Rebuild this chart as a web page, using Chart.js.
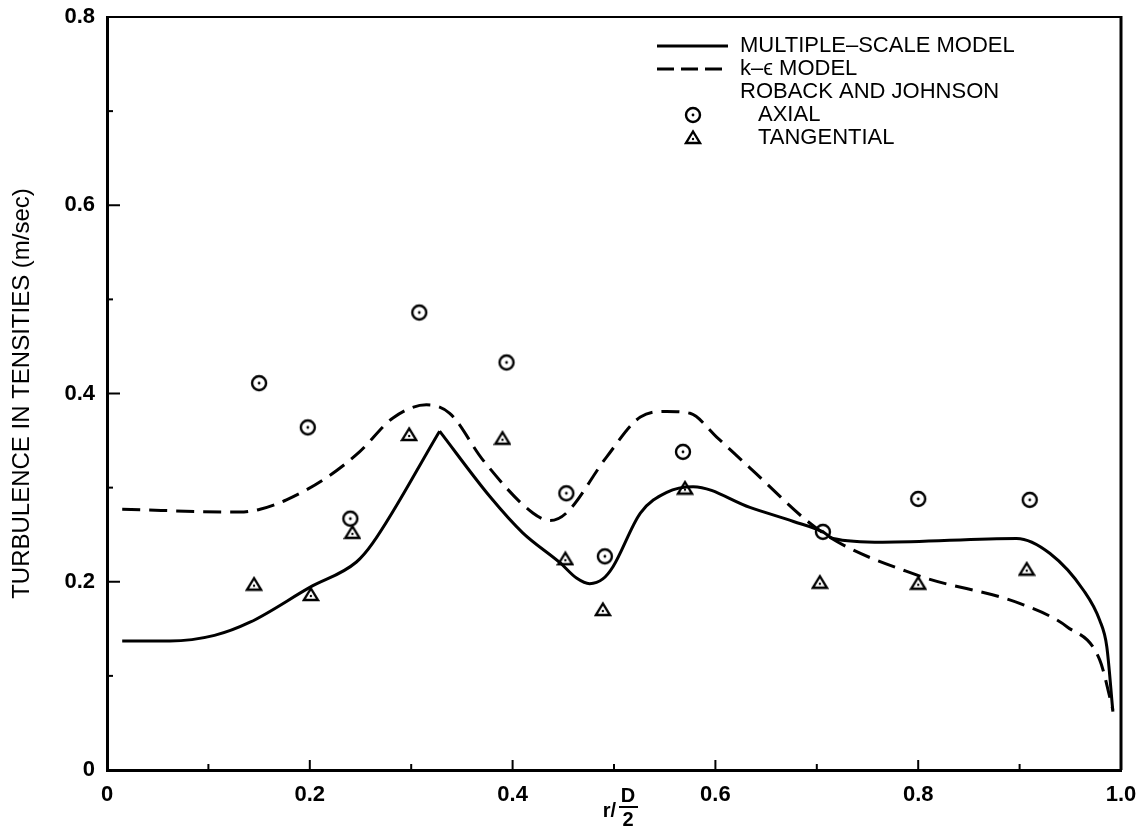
<!DOCTYPE html>
<html>
<head>
<meta charset="utf-8">
<script src="https://cdn.jsdelivr.net/npm/chart.js@4/dist/chart.umd.min.js"></script>
<style>
  html, body { margin: 0; padding: 0; background: #fff; }
  #wrap { width: 1146px; height: 833px; }
</style>
</head>
<body>
<div id="wrap"><canvas id="chart"></canvas></div>
<script>
// Multiple-scale model (solid)
const msX = [0.015, 0.062, 0.106, 0.141, 0.200, 0.246, 0.262, 0.328, 0.378, 0.410, 0.447, 0.463, 0.476, 0.489, 0.499, 0.526, 0.552, 0.578, 0.634, 0.677, 0.706, 0.716, 0.765, 0.897, 0.930, 0.963, 0.979, 0.986, 0.992];
const msY = [0.137, 0.137, 0.143, 0.157, 0.194, 0.221, 0.241, 0.360, 0.290, 0.252, 0.220, 0.204, 0.198, 0.203, 0.216, 0.273, 0.295, 0.301, 0.279, 0.264, 0.253, 0.246, 0.242, 0.246, 0.230, 0.191, 0.159, 0.131, 0.062];
const msPeakIndex = 7; // sharp corner here

// k-epsilon model (dashed)
const keX = [0.015, 0.131, 0.151, 0.177, 0.217, 0.249, 0.282, 0.315, 0.338, 0.371, 0.420, 0.437, 0.453, 0.493, 0.526, 0.552, 0.575, 0.601, 0.634, 0.706, 0.799, 0.900, 0.947, 0.979, 0.992];
const keY = [0.277, 0.274, 0.277, 0.287, 0.311, 0.338, 0.374, 0.388, 0.379, 0.329, 0.273, 0.265, 0.273, 0.333, 0.375, 0.381, 0.379, 0.354, 0.321, 0.252, 0.207, 0.177, 0.152, 0.117, 0.064];

// Roback and Johnson data
const axialX = [0.150, 0.198, 0.240, 0.308, 0.394, 0.453, 0.491, 0.568, 0.706, 0.800, 0.910];
const axialY = [0.411, 0.364, 0.267, 0.486, 0.433, 0.294, 0.227, 0.338, 0.253, 0.288, 0.287];
const tangX = [0.145, 0.201, 0.242, 0.298, 0.390, 0.452, 0.489, 0.570, 0.703, 0.800, 0.907];
const tangY = [0.198, 0.187, 0.253, 0.357, 0.353, 0.225, 0.171, 0.300, 0.200, 0.199, 0.214];

// axes
const xTicks = [0, 0.2, 0.4, 0.6, 0.8, 1.0];
const xTickLabels = ['0', '0.2', '0.4', '0.6', '0.8', '1.0'];
const xMinorTicks = [0.1, 0.3, 0.5, 0.7, 0.9];
const yTicks = [0, 0.2, 0.4, 0.6, 0.8];
const yTickLabels = ['0', '0.2', '0.4', '0.6', '0.8'];
const yMinorTicks = [0.1, 0.3, 0.5, 0.7];

const legendLabels = ['MULTIPLE\u2013SCALE MODEL', 'k\u2013\u03F5 MODEL', 'ROBACK AND JOHNSON', 'AXIAL', 'TANGENTIAL'];
const yTitle = 'TURBULENCE IN TENSITIES (m/sec)';

const FONT = "'Liberation Sans', Arial, Helvetica, 'DejaVu Sans', sans-serif";

function zip(xs, ys) {
  return xs.map((x, i) => ({ x: x, y: ys[i] }));
}

// marker images
function makeCircleMarker() {
  const c = document.createElement('canvas');
  c.width = 20; c.height = 20;
  const g = c.getContext('2d');
  g.strokeStyle = '#000'; g.lineWidth = 2.4;
  g.beginPath(); g.arc(10, 10, 7, 0, Math.PI * 2); g.stroke();
  g.fillStyle = '#000';
  g.beginPath(); g.arc(10, 10, 1.4, 0, Math.PI * 2); g.fill();
  return c;
}
function makeTriangleMarker() {
  const c = document.createElement('canvas');
  c.width = 18; c.height = 16;
  const g = c.getContext('2d');
  g.strokeStyle = '#000'; g.lineWidth = 2.4; g.lineJoin = 'miter';
  g.beginPath(); g.moveTo(9, 2.5); g.lineTo(2, 14); g.lineTo(16, 14); g.closePath(); g.stroke();
  g.fillStyle = '#000';
  g.beginPath(); g.arc(9, 10, 1.2, 0, Math.PI * 2); g.fill();
  return c;
}
const circleImg = makeCircleMarker();
const triImg = makeTriangleMarker();

const msPts = zip(msX, msY);

const lineStyle = {
  showLine: true,
  borderColor: '#000',
  borderWidth: 3,
  pointRadius: 0,
  fill: false,
  cubicInterpolationMode: 'monotone'
};

// inward ticks, frame, legend, fraction x-title
const decorations = {
  id: 'decorations',
  afterDraw(chart) {
    const { ctx, chartArea: a, scales: { x, y } } = chart;
    ctx.save();
    ctx.strokeStyle = '#000';
    ctx.fillStyle = '#000';

    // frame top + right
    ctx.lineWidth = 2;
    ctx.beginPath(); ctx.moveTo(a.left, a.top); ctx.lineTo(a.right, a.top); ctx.stroke();
    ctx.lineWidth = 3;
    ctx.beginPath(); ctx.moveTo(a.right, a.top - 1); ctx.lineTo(a.right, a.bottom); ctx.stroke();

    // ticks
    ctx.lineWidth = 2;
    xTicks.slice(1, -1).forEach(v => {
      const px = x.getPixelForValue(v);
      ctx.beginPath(); ctx.moveTo(px, a.bottom); ctx.lineTo(px, a.bottom - 10); ctx.stroke();
    });
    xMinorTicks.forEach(v => {
      const px = x.getPixelForValue(v);
      ctx.beginPath(); ctx.moveTo(px, a.bottom); ctx.lineTo(px, a.bottom - 6); ctx.stroke();
    });
    yTicks.slice(1, -1).forEach(v => {
      const py = y.getPixelForValue(v);
      ctx.beginPath(); ctx.moveTo(a.left, py); ctx.lineTo(a.left + 13, py); ctx.stroke();
    });
    yMinorTicks.forEach(v => {
      const py = y.getPixelForValue(v);
      ctx.beginPath(); ctx.moveTo(a.left, py); ctx.lineTo(a.left + 6, py); ctx.stroke();
    });

    // legend
    const lx0 = 657, lx1 = 728, tx = 740, rowY = [46, 69, 92, 115, 138];
    ctx.lineWidth = 3;
    ctx.beginPath(); ctx.moveTo(lx0, rowY[0]); ctx.lineTo(lx1, rowY[0]); ctx.stroke();
    ctx.setLineDash([17, 7]);
    ctx.beginPath(); ctx.moveTo(lx0, rowY[1]); ctx.lineTo(lx1, rowY[1]); ctx.stroke();
    ctx.setLineDash([]);
    ctx.drawImage(circleImg, 693 - 10, rowY[3] - 10);
    ctx.drawImage(triImg, 693 - 9, rowY[4] - 9);
    ctx.font = '22px ' + FONT;
    ctx.textBaseline = 'middle';
    ctx.textAlign = 'left';
    ctx.fillText(legendLabels[0], tx, rowY[0]);
    ctx.fillText(legendLabels[1], tx, rowY[1]);
    ctx.fillText(legendLabels[2], tx, rowY[2]);
    ctx.fillText(legendLabels[3], 758, rowY[3]);
    ctx.fillText(legendLabels[4], 758, rowY[4]);

    // x-axis title r / (D/2)
    ctx.font = 'bold 20px ' + FONT;
    ctx.textAlign = 'right';
    ctx.fillText('r/', 616, 811);
    ctx.textAlign = 'center';
    ctx.fillText('D', 628, 796);
    ctx.fillText('2', 628, 820);
    ctx.lineWidth = 2;
    ctx.beginPath(); ctx.moveTo(619, 807); ctx.lineTo(638, 807); ctx.stroke();

    ctx.restore();
  }
};

new Chart(document.getElementById('chart'), {
  type: 'scatter',
  data: {
    datasets: [
      Object.assign({ label: 'Multiple-scale model', data: msPts.slice(0, msPeakIndex + 1) }, lineStyle),
      Object.assign({ label: 'Multiple-scale model (cont.)', data: msPts.slice(msPeakIndex) }, lineStyle),
      Object.assign({ label: 'k-e model', data: zip(keX, keY), borderDash: [18, 9] }, lineStyle),
      {
        label: 'Axial',
        data: zip(axialX, axialY),
        showLine: false,
        pointStyle: circleImg,
        pointRadius: 8
      },
      {
        label: 'Tangential',
        data: zip(tangX, tangY),
        showLine: false,
        pointStyle: triImg,
        pointRadius: 8
      }
    ]
  },
  options: {
    responsive: true,
    maintainAspectRatio: false,
    animation: false,
    layout: {
      padding: { left: 0, right: 25, top: 17, bottom: 0 }
    },
    plugins: {
      legend: { display: false },
      tooltip: { enabled: false }
    },
    scales: {
      x: {
        type: 'linear',
        min: 0,
        max: 1,
        grid: { display: false, drawTicks: false },
        border: { display: true, color: '#000', width: 3 },
        afterBuildTicks: function(scale) {
          scale.ticks = xTicks.map(v => ({ value: v }));
        },
        afterFit: function(scale) {
          scale.height = 63;
          scale.paddingLeft = 0;
          scale.paddingRight = 0;
        },
        ticks: {
          color: '#000',
          padding: 12,
          maxRotation: 0,
          font: { family: FONT, size: 22, weight: 'bold' },
          callback: function(value, index) { return xTickLabels[index]; }
        }
      },
      y: {
        type: 'linear',
        min: 0,
        max: 0.8,
        grid: { display: false, drawTicks: false },
        border: { display: true, color: '#000', width: 3 },
        afterBuildTicks: function(scale) {
          scale.ticks = yTicks.map(v => ({ value: v }));
        },
        afterFit: function(scale) {
          scale.width = 107;
          scale.paddingTop = 0;
          scale.paddingBottom = 0;
        },
        title: {
          display: true,
          text: yTitle,
          color: '#000',
          font: { family: FONT, size: 24 },
          padding: { top: 8, bottom: 0 }
        },
        ticks: {
          color: '#000',
          padding: 12,
          font: { family: FONT, size: 22, weight: 'bold' },
          callback: function(value, index) { return yTickLabels[index]; }
        }
      }
    }
  },
  plugins: [decorations]
});
</script>
</body>
</html>
